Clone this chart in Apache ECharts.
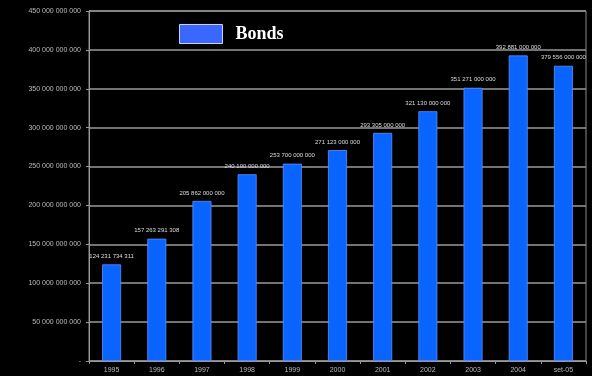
<!DOCTYPE html>
<html>
<head>
<meta charset="utf-8">
<script src="https://cdn.jsdelivr.net/npm/echarts@6/dist/echarts.min.js"></script>
<style>
  html, body { margin: 0; padding: 0; background: #000; }
  #chart { width: 592px; height: 376px; }
</style>
</head>
<body>
<div id="chart"></div>
<script>
// Bond market volume by year
const categories = ['1995', '1996', '1997', '1998', '1999', '2000', '2001', '2002', '2003', '2004', 'set-05'];
const bondValues = [124231734311, 157263291308, 205862000000, 240100000000, 253700000000, 271123000000,
                    293305000000, 321130000000, 351271000000, 392881000000, 379556000000];
const seriesName = 'Bonds';

// thousands grouped with spaces, zero shown as a dash
function fmt(v) {
  if (v === 0) return '-';
  return String(Math.round(v)).replace(/\B(?=(\d{3})+(?!\d))/g, ' ');
}

const chart = echarts.init(document.getElementById('chart'), null, { renderer: 'canvas' });
chart.setOption({
  backgroundColor: '#000',
  animation: false,
  grid: { left: 89, right: 6, top: 11, bottom: 15, containLabel: false,
          show: true, borderColor: '#8a8a8a', borderWidth: 1 },
  legend: {
    left: 179, top: 24, padding: 0,
    itemWidth: 43, itemHeight: 19,
    icon: 'rect',
    data: [{ name: seriesName, itemStyle: { color: '#3a68ff', borderColor: '#c8d0ff', borderWidth: 1 } }],
    textStyle: { color: '#fff', fontFamily: 'Liberation Serif', fontWeight: 'bold', fontSize: 18, padding: [0, 0, 0, 8] },
    selectedMode: false
  },
  xAxis: {
    type: 'category',
    data: categories,
    axisLine: { lineStyle: { color: '#999', width: 1 } },
    axisTick: { show: true, alignWithLabel: false, length: 3, lineStyle: { color: '#999' } },
    axisLabel: { color: '#bbb', fontSize: 7, fontFamily: 'Liberation Sans', margin: 6 }
  },
  yAxis: {
    type: 'value',
    min: 0, max: 450000000000, interval: 50000000000,
    axisLine: { show: true, lineStyle: { color: '#999', width: 1 } },
    axisTick: { show: true, length: 3, lineStyle: { color: '#999' } },
    axisLabel: { color: '#bbb', fontSize: 7, fontFamily: 'Liberation Sans', margin: 8, formatter: fmt },
    splitLine: { show: true, lineStyle: { color: '#9a9a9a', width: 1.5 } }
  },
  series: [{
    name: seriesName,
    type: 'bar',
    data: bondValues,
    barWidth: 19,
    itemStyle: { color: '#0a64ff', borderColor: '#5d8fff', borderWidth: 0.8 },
    label: {
      show: true, position: 'top', distance: 5,
      color: '#ddd', fontSize: 6, fontFamily: 'Liberation Sans',
      formatter: p => fmt(p.value)
    }
  }]
});
</script>
</body>
</html>
